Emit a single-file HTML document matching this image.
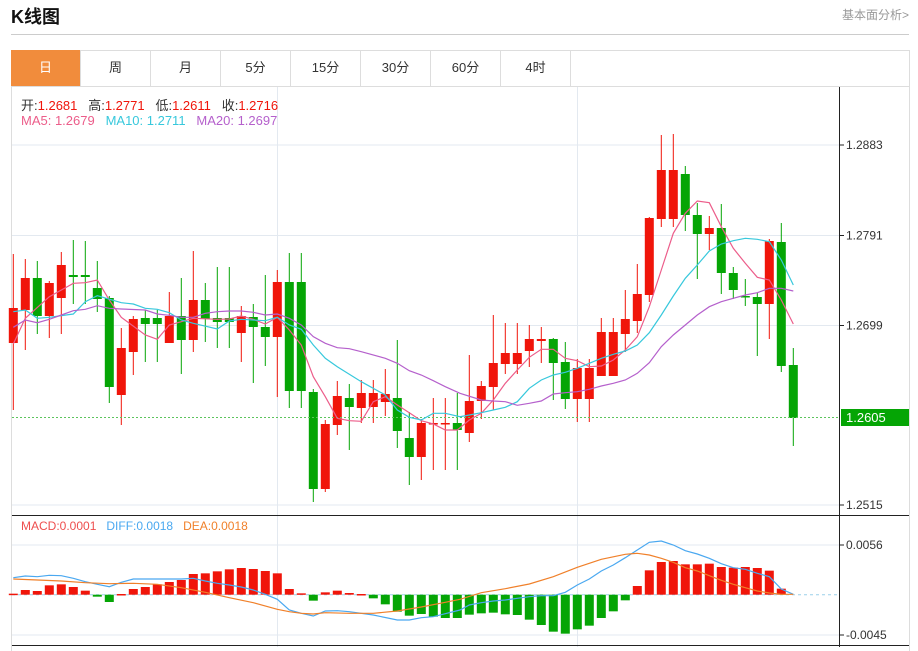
<!DOCTYPE html>
<html><head><meta charset="utf-8">
<style>
html,body{margin:0;padding:0;background:#fff;width:918px;height:647px;overflow:hidden;font-family:"Liberation Sans","Noto Sans CJK SC",sans-serif;}
.title{position:absolute;left:11px;top:3px;font-size:18px;font-weight:bold;color:#111;}
.more{position:absolute;right:9px;top:6px;font-size:12px;color:#999;}
.hr{position:absolute;left:11px;top:34px;width:898px;height:1px;background:#ccc;}
.frame{position:absolute;left:11px;top:50px;width:897px;height:600px;border:1px solid #ddd;border-bottom:none;}
.tabs{position:absolute;left:11px;top:50px;height:36px;width:898px;border-bottom:1px solid #ddd;}
.tab{position:absolute;top:0;width:69px;height:36px;line-height:36px;text-align:center;font-size:13px;color:#333;border-right:1px solid #ddd;}
.tab.on{background:#f18c3c;color:#fff;}
svg{position:absolute;left:0;top:0;}
.info{position:absolute;left:21px;font-size:13px;white-space:pre;}
</style></head><body>
<div class="title">K线图</div>
<div class="more">基本面分析&gt;</div>
<div class="hr"></div>
<div class="frame"></div>
<div class="tabs">
<div class="tab on" style="left:0">日</div>
<div class="tab" style="left:70px">周</div>
<div class="tab" style="left:140px">月</div>
<div class="tab" style="left:210px">5分</div>
<div class="tab" style="left:280px">15分</div>
<div class="tab" style="left:350px">30分</div>
<div class="tab" style="left:420px">60分</div>
<div class="tab" style="left:490px">4时</div>
</div>
<svg id="s" width="918" height="647" xmlns="http://www.w3.org/2000/svg"></svg>
<div class="info" style="top:95px;color:#333">开:<span style="color:#f0150a">1.2681</span>   高:<span style="color:#f0150a">1.2771</span>   低:<span style="color:#f0150a">1.2611</span>   收:<span style="color:#f0150a">1.2716</span></div>
<div class="info" style="top:113px"><span style="color:#ec5d8a">MA5: 1.2679</span>   <span style="color:#37c8dc">MA10: 1.2711</span>   <span style="color:#b560cc">MA20: 1.2697</span></div>
<div class="info" style="top:519px;font-size:12px"><span style="color:#ee4e4e">MACD:0.0001</span>   <span style="color:#4aa8f0">DIFF:0.0018</span>   <span style="color:#f0802a">DEA:0.0018</span></div>
<script>
var s='';
function L(x1,y1,x2,y2,c,w,extra){s+='<line x1="'+x1+'" y1="'+y1+'" x2="'+x2+'" y2="'+y2+'" stroke="'+c+'" stroke-width="'+(w||1)+'" '+(extra||'')+'/>';}
function R(x,y,w,h,c){s+='<rect x="'+x+'" y="'+y+'" width="'+w+'" height="'+Math.max(h,1.5)+'" fill="'+c+'"/>';}
var g='#e3e9f0';
[145,235.5,325.5,505].forEach(function(y){L(12,y,839,y,g);});
[545,635].forEach(function(y){L(12,y,839,y,g);});
L(277.5,87,277.5,647,g);L(577.5,87,577.5,647,g);
L(839.5,87,839.5,647,'#222');
L(12,515.5,909,515.5,'#222');L(12,645.5,909,645.5,'#222');
var lab=[[145,'1.2883'],[235.5,'1.2791'],[325.5,'1.2699'],[505,'1.2515'],[545,'0.0056'],[635,'-0.0045']];
lab.forEach(function(a){L(839,a[0],844,a[0],'#222');s+='<text x="846" y="'+(a[0]+4)+'" font-size="12" fill="#333" font-family="Liberation Sans,sans-serif">'+a[1]+'</text>';});
var C=[[343,308,254,410],[310,278,259,350],[278,316,261,334],[316,283,281,338],[298,265,252,334],[275,277,240,304],[275,277,241,304],[288,299,261,312],[298,387,296,403],[395,348,328,425],[352,319,316,375],[318,324,310,362],[318,324,310,362],[343,316,292,343],[316,340,278,374],[340,300,251,352],[300,319,283,342],[318,322,267,348],[318,322,267,348],[333,316,306,362],[317,327,304,383],[327,337,275,366],[337,282,270,397],[282,391,253,408],[282,391,253,408],[392,489,389,502],[489,424,420,492],[425,396,381,435],[398,407,384,450],[408,393,380,423],[407,393,380,423],[402,394,369,416],[398,431,340,448],[438,457,412,485],[457,423,419,480],[424,423,398,470],[424,423,398,470],[423,430,393,470],
[433,401,355,442],[401,386,381,419],[387,363,315,410],[364,353,323,374],[364,353,323,374],[351,339,325,367],[341,339,327,363],[339,363,338,400],[362,399,342,409],[399,368,359,422],[399,368,359,422],[376,332,318,376],[376,332,318,376],[334,319,290,352],[321,294,264,333],[295,218,217,302],[219,170,135,227],[219,170,134,227],[174,215,166,231],[215,234,203,279],[234,228,216,250],[228,273,204,294],[273,290,267,299],[296,297,279,306],[297,304,293,356],[304,241,239,339],[242,366,223,372],[365,418,348,446]];
var RED='#f0150a',GRN='#05a505';
C.forEach(function(c,i){var x=13.3+12*i;var up=c[1]<c[0];var col=up?RED:GRN;
if(i==35||i==36||i==44)col=RED;if(i==5||i==6||i==11||i==12||i==17||i==18||i==61)col=GRN;
L(x,c[2],x,c[3],col);var t=Math.min(c[0],c[1]),h=Math.abs(c[0]-c[1]);R(x-4.5,t,9,h,col);});
L(12,417.5,839,417.5,'#5cc45c',1,'stroke-dasharray="2,2"');
R(841,409,68,17,GRN);s+='<text x="846" y="422" font-size="13" fill="#fff" font-family="Liberation Sans,sans-serif">1.2605</text>';
function P(a,ox,oy,col){var p=[];for(var i=0;i<a.length;i+=2)p.push((ox+a[i]/3).toFixed(1)+','+(oy+a[i+1]/3).toFixed(1));return p.join(' ');}
function PL(a,b,col,w){s+='<polyline fill="none" stroke="'+col+'" stroke-width="'+(w||1.2)+'" points="'+P(a,0,230)+' '+P(b,460,120)+'"/>';}
PL([40,342,76,265,148,200,220,160,256,158,292,150,328,210,364,262,436,315,472,328,508,285,580,265,652,268,688,267,724,258,760,268,796,282,832,262,868,300,904,345,940,440,976,500,1012,565,1048,572,1084,574,1120,515,1156,500,1192,525,1228,548,1264,572,1300,582,1336,600,1372,600],
[28,900,64,880,100,840,136,790,172,750,208,712,244,688,280,688,316,715,352,722,388,740,424,738,460,720,496,690,532,650,568,560,604,450,640,340,676,280,712,243,748,248,784,320,820,385,856,430,892,472,928,480,964,540,1000,612],'#ec5d8a');
PL([40,245,76,240,112,265,148,262,220,252,256,215,292,197,364,218,400,222,436,235,472,238,508,248,544,270,580,280,652,297,688,273,724,268,760,270,796,272,832,262,868,285,904,298,940,345,976,385,1012,410,1084,455,1156,495,1192,540,1228,562,1264,570,1300,550,1336,550,1380,560],
[28,885,64,878,100,870,136,862,172,845,208,805,244,780,280,765,316,757,352,745,388,730,424,715,460,703,496,693,532,675,568,638,604,585,640,528,676,475,712,435,748,393,784,372,820,362,856,355,892,358,928,365,964,420,1000,495],'#37c8dc');
PL([40,292,76,270,112,278,148,268,184,255,220,242,256,238,292,227,328,235,364,237,436,240,472,252,508,256,544,262,580,262,616,250,652,245,688,243,724,243,760,247,796,255,832,252,868,265,904,285,940,320,976,340,1012,353,1048,356,1084,365,1156,385,1192,400,1228,422,1264,435,1300,452,1336,470,1380,490],
[64,840,100,843,136,845,172,856,208,850,244,843,280,822,316,818,352,815,388,808,424,798,460,790,496,780,532,760,568,728,604,680,640,645,676,615,712,585,748,560,784,545,820,535,856,525,892,518,928,505,964,505,1000,513],'#b560cc');
var zero=594.7;
L(12,zero,839,zero,'#9cd0ea',1,'stroke-dasharray="3,3"');
var H=[266,255,258,241,238,246,257,275,291,267,252,246,238,231,225,207,205,199,193,189,192,198,205,252,265,287,262,257,264,267,280,298,320,332,327,335,339,339,
329,325,323,328,330,344,360,380,386,373,362,339,319,286,243,196,171,168,178,178,176,186,188,186,189,197,251,268];
H.forEach(function(Y,i){var x=13.3+12*i;var y=505+Y/3;var col=y<zero?RED:GRN;var t=Math.min(y,zero),h=Math.abs(y-zero);if(h>0.5)R(x-4.5,t,9,h,col);});
function ML(a,b,col){s+='<polyline fill="none" stroke="'+col+'" stroke-width="1.2" points="'+P(a,0,505)+' '+P(b,460,505)+'"/>';}
ML([40,218,76,213,112,215,148,211,184,212,220,220,256,230,292,238,328,245,364,232,400,222,472,222,544,222,580,220,616,228,652,235,688,240,724,246,760,255,796,268,832,283,868,315,904,325,940,333,976,318,1012,317,1048,320,1120,330,1192,345,1228,345,1264,338,1300,335,1336,326,1380,315],
[28,300,64,293,100,288,136,285,172,280,208,275,244,272,280,272,316,262,352,240,388,222,424,198,460,180,496,158,532,135,568,112,604,108,640,120,676,137,712,147,748,160,784,176,820,188,856,193,892,205,928,215,964,252,1000,268],'#4aa8f0');
ML([40,222,112,225,184,228,256,233,328,236,400,235,472,238,544,248,616,262,688,278,760,293,832,313,868,320,904,325,940,327,976,323,1048,325,1120,325,1192,318,1264,306,1336,292,1380,283],
[64,263,136,251,208,237,280,215,352,187,424,163,496,148,532,145,568,150,604,160,640,172,676,188,712,198,748,212,784,226,820,238,856,248,892,258,928,264,964,268,1000,268],'#f0802a');
document.getElementById('s').innerHTML=s;
</script>
</body></html>
